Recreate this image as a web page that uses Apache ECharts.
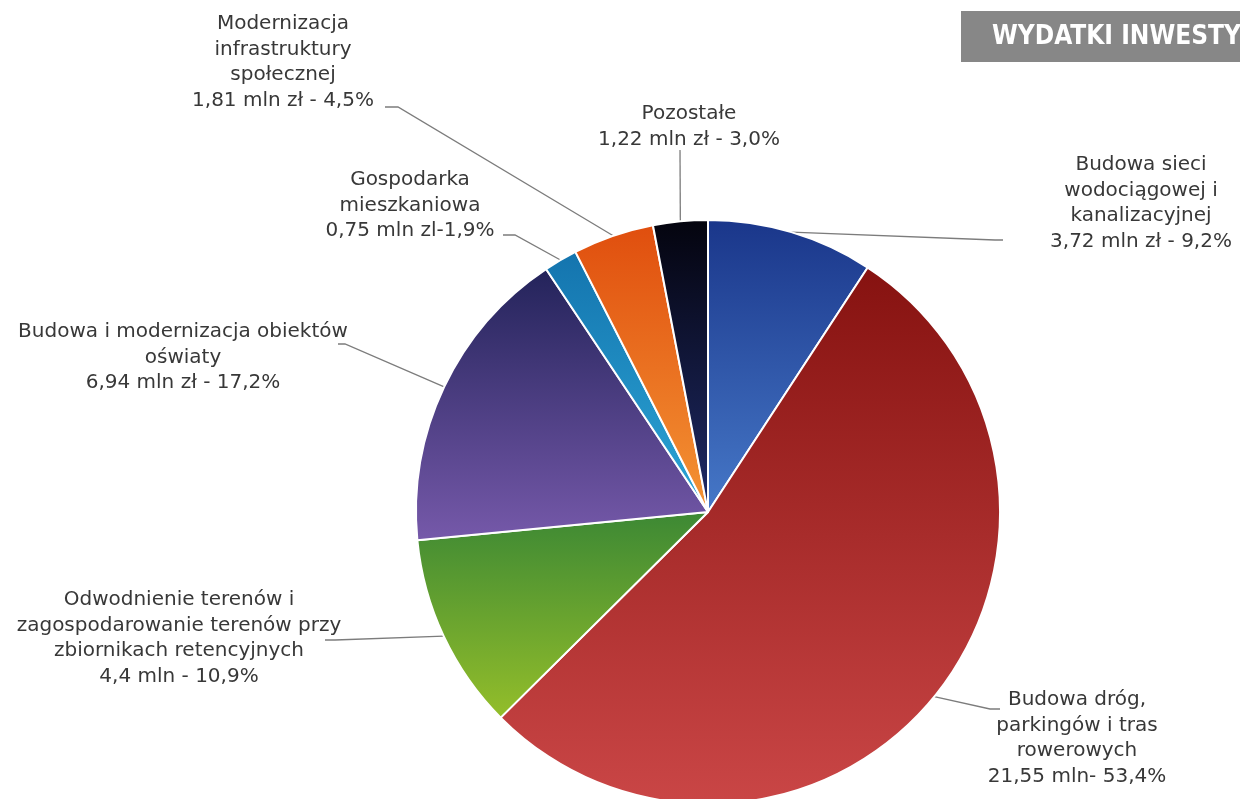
<!DOCTYPE html>
<html><head><meta charset="utf-8">
<script src="https://cdn.jsdelivr.net/npm/echarts@6/dist/echarts.min.js"></script>
<style>html,body{margin:0;padding:0;background:#fff}#c{width:1240px;height:799px}</style>
</head><body><div id="c"></div>
<script>
// ---- data ----
const categories = [
  'Budowa sieci\nwodociągowej i\nkanalizacyjnej',
  'Budowa dróg,\nparkingów i tras\nrowerowych',
  'Odwodnienie terenów i\nzagospodarowanie terenów przy\nzbiornikach retencyjnych',
  'Budowa i modernizacja obiektów\noświaty',
  'Gospodarka\nmieszkaniowa',
  'Modernizacja\ninfrastruktury\nspołecznej',
  'Pozostałe'
];
const values = [3.72, 21.55, 4.4, 6.94, 0.75, 1.81, 1.22];
const valueLabels = [
  '3,72 mln zł - 9,2%',
  '21,55 mln- 53,4%',
  '4,4 mln - 10,9%',
  '6,94 mln zł - 17,2%',
  '0,75 mln zl-1,9%',
  '1,81 mln zł - 4,5%',
  '1,22 mln zł - 3,0%'
];
const titleText = 'WYDATKI INWESTY';

// ---- styles / layout ----
const gradients = [
  ['#1a368a', '#4678c8'],
  ['#861210', '#ca4646'],
  ['#3c8834', '#94be2a'],
  ['#23235a', '#7659aa'],
  ['#1474ae', '#2ca6d6'],
  ['#e04e0e', '#f49434'],
  ['#04040e', '#1f2b68']
];
// [textCenterX, firstLineCenterY, lineEndX, lineEndY, bendX]
const labelPlaces = [
  [1141, 165, 1003, 240, 995],
  [1077, 700, 1000, 709, 990],
  [179, 600, 325, 640, 335],
  [183, 332, 338, 344, 345],
  [410, 180, 503, 235, 515],
  [283, 24, 385, 107, 398],
  [689, 114, 680, 150, 680]
];
const LH = 25.5;

const chart = echarts.init(document.getElementById('c'), null, {renderer: 'canvas'});
const data = categories.map((n, i) => ({
  name: n,
  value: values[i],
  itemStyle: {
    color: new echarts.graphic.LinearGradient(0, 0, 0, 1, [
      {offset: 0, color: gradients[i][0]},
      {offset: 1, color: gradients[i][1]}
    ])
  }
}));

chart.setOption({
  animation: false,
  backgroundColor: '#ffffff',
  graphic: [
    {type: 'rect', shape: {x: 961, y: 11, width: 279, height: 51}, style: {fill: '#878787'}},
    {type: 'text', x: 992, y: 37, style: {
      text: titleText, fill: '#ffffff', fontSize: 26, fontWeight: 'bold',
      fontFamily: "'DejaVu Sans Condensed', 'Liberation Sans Narrow', 'DejaVu Sans'",
      verticalAlign: 'middle', align: 'left'
    }}
  ],
  series: [{
    type: 'pie',
    center: [708, 512],
    radius: 292,
    startAngle: 90,
    clockwise: true,
    avoidLabelOverlap: false,
    silent: true,
    itemStyle: {borderColor: '#ffffff', borderWidth: 2},
    label: {
      show: true,
      position: 'outside',
      formatter: p => p.name + '\n' + valueLabels[p.dataIndex],
      fontFamily: "'DejaVu Sans', Verdana, sans-serif",
      fontSize: 20,
      lineHeight: LH,
      color: '#383838',
      align: 'center'
    },
    labelLine: {
      show: true,
      smooth: false,
      length: 20,
      length2: 20,
      lineStyle: {color: '#7c7c7c', width: 1.3}
    },
    labelLayout: function (p) {
      const L = labelPlaces[p.dataIndex];
      const pts = p.labelLinePoints;
      return {
        x: L[0],
        y: L[1] - LH / 2,
        align: 'center',
        verticalAlign: 'top',
        labelLinePoints: [pts[0], [L[4], L[3]], [L[2], L[3]]]
      };
    },
    data: data
  }]
});
</script>
</body></html>
